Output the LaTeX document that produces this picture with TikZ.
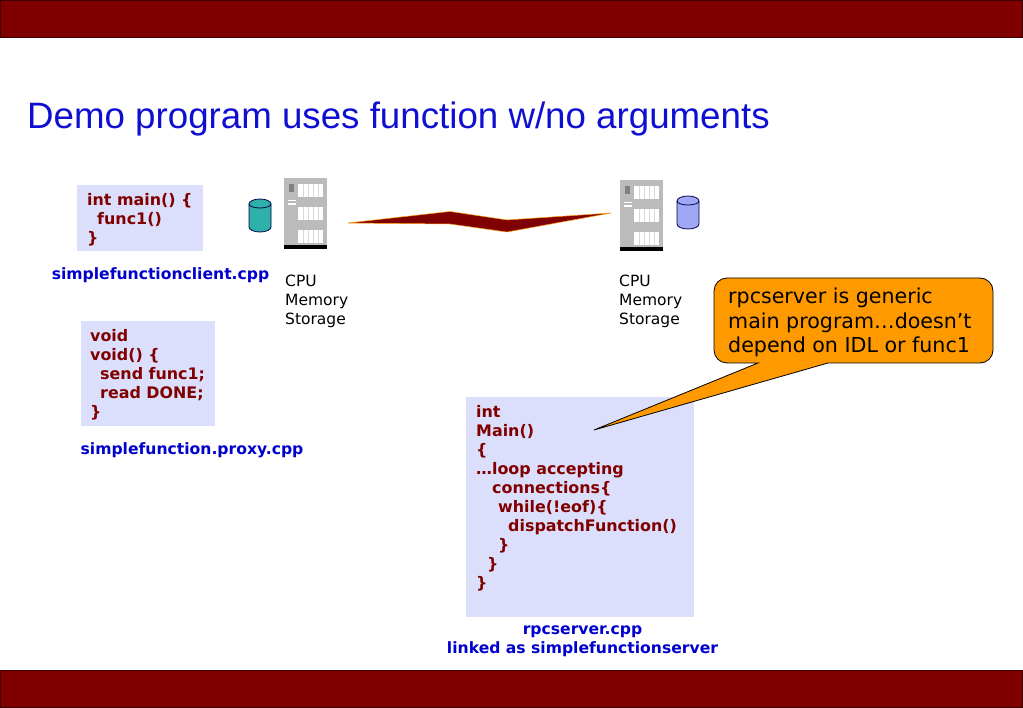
\documentclass[tikz,border=0pt]{standalone}
\usepackage{xcolor}
\usepackage{fontspec}
\setmainfont{DejaVu Sans}
\newfontfamily\titlefont{Liberation Sans}
\usetikzlibrary{positioning}
\definecolor{barcolor}{HTML}{7F0000}
\definecolor{bardark}{HTML}{400000}
\definecolor{codecolor}{HTML}{800000}
\definecolor{filecolor}{HTML}{0000CC}
\definecolor{titlecolor}{HTML}{0F0FD2}
\definecolor{panelcolor}{HTML}{DCDFFB}
\definecolor{notecolor}{HTML}{FF9900}
\definecolor{rackcolor}{HTML}{BBBBBB}
\definecolor{tealcolor}{HTML}{2FB0A8}
\definecolor{lilaccolor}{HTML}{A0A8F5}
\tikzset{
  codetext/.style={anchor=north west, inner sep=0pt, align=left, text=codecolor,
        font=\fontsize{15.9}{19}\selectfont\bfseries},
  filetext/.style={inner sep=0pt, align=center, text=filecolor,
        font=\fontsize{15.6}{19}\selectfont\bfseries},
  spectext/.style={anchor=north west, inner sep=0pt, align=left,
        font=\fontsize{15.5}{19}\selectfont}
}
\begin{document}
\begin{tikzpicture}[x=1pt, y=1pt]
  \useasboundingbox (0,0) rectangle (1023,-708);
  % bars
  \fill[barcolor] (0,0) rectangle (1023,-38);
  \fill[barcolor] (0,-670) rectangle (1023,-708);
  \draw[bardark, line width=0.8pt] (0.4,-0.4) rectangle (1022.6,-37.6);
  \draw[bardark, line width=0.8pt] (0.4,-670.4) rectangle (1022.6,-707.6);
  \node[anchor=west, inner sep=0pt, text=titlecolor, font=\titlefont\fontsize{36.7}{40}\selectfont]
    (title) at (27,-119.5) {Demo program uses function w/no arguments};
  % code panels
  \fill[panelcolor] (77,-185) rectangle (203,-251);
  \fill[panelcolor] (81,-321) rectangle (215,-426);
  \fill[panelcolor] (466,-397) rectangle (694,-617);
  \node[codetext] (clientcode) at (87,-193) {int main() \{\\\hspace{10pt}func1()\\\}};
  \node[codetext] (proxycode) at (90,-329) {void\\void() \{\\\hspace{10pt}send func1;\\\hspace{10pt}read DONE;\\\}};
  \node[codetext] (servercode) at (476,-405) {int\\Main()\\\{\\…loop accepting\\\hspace{16pt}connections\{\\\hspace{22pt}while(!eof)\{\\\hspace{32pt}dispatchFunction()\\\hspace{22pt}\}\\\hspace{11pt}\}\\\}};
  \node[filetext] (clientfile) at (160.5,-275.5) {simplefunctionclient.cpp};
  \node[filetext] (proxyfile) at (192,-450.5) {simplefunction.proxy.cpp};
  \node[filetext] (serverfile) at (582.5,-641.5) {rpcserver.cpp\\linked as simplefunctionserver};
  % racks
  \foreach \rx/\ry in {284/178, 620/180} {
    \begin{scope}[shift={(\rx,-\ry)}]
      \fill[rackcolor] (0,0) rectangle (43,-69);
      \fill[black] (0,-67) rectangle (43,-71);
      \fill[gray] (5,-6) rectangle (10,-14);
      \fill[white] (4,-22) rectangle (12,-23.5);
      \fill[white] (4,-25) rectangle (12,-27);
      \foreach \py in {-6,-29,-52} {
        \fill[white] (14,\py) rectangle (39,\py-13);
        \foreach \lx in {19,24,29,34} {
          \draw[black!15, line width=0.5pt] (\lx,\py) -- (\lx,\py-13);
        }
      }
    \end{scope}
  }
  % disks
  \foreach \dx/\dy/\col in {249/199/tealcolor, 677/196/lilaccolor} {
    \begin{scope}[shift={(\dx,-\dy)}]
      \draw[black!70!blue, fill=\col, line width=0.8pt]
        (0,-5) -- (0,-28) arc[start angle=180, end angle=360, x radius=11, y radius=5]
        -- (22,-5) arc[start angle=0, end angle=180, x radius=11, y radius=5] -- cycle;
      \draw[black!70!blue, line width=0.8pt]
        (0,-5) arc[start angle=180, end angle=360, x radius=11, y radius=4];
    \end{scope}
  }
  \node[spectext] (leftspec) at (285,-275) {CPU\\Memory\\Storage};
  \node[spectext] (rightspec) at (619,-275) {CPU\\Memory\\Storage};
  % link
  \coordinate (linkl) at (348,-223);
  \coordinate (linkr) at (611,-213);
  \draw[notecolor, fill=barcolor, line width=0.5pt, line join=miter]
    (linkl) -- (450,-211.5) -- (507,-220) -- (linkr) -- (507,-232) -- (450,-224) -- cycle;
  % callout
  \coordinate (notetip) at (594,-430);
  \draw[black, fill=notecolor, line width=0.8pt]
    (758,-363) -- (727,-363) arc[start angle=270, end angle=180, radius=13]
    -- (714,-291) arc[start angle=180, end angle=90, radius=13]
    -- (980,-278) arc[start angle=90, end angle=0, radius=13]
    -- (993,-350) arc[start angle=0, end angle=-90, radius=13]
    -- (828,-363) -- (notetip) -- cycle;
  \node[anchor=north west, inner sep=0pt, align=left, font=\fontsize{20.6}{24.5}\selectfont]
    (notetext) at (728,-288) {rpcserver is generic\\main program…doesn’t\\depend on IDL or func1};
\end{tikzpicture}
\end{document}
